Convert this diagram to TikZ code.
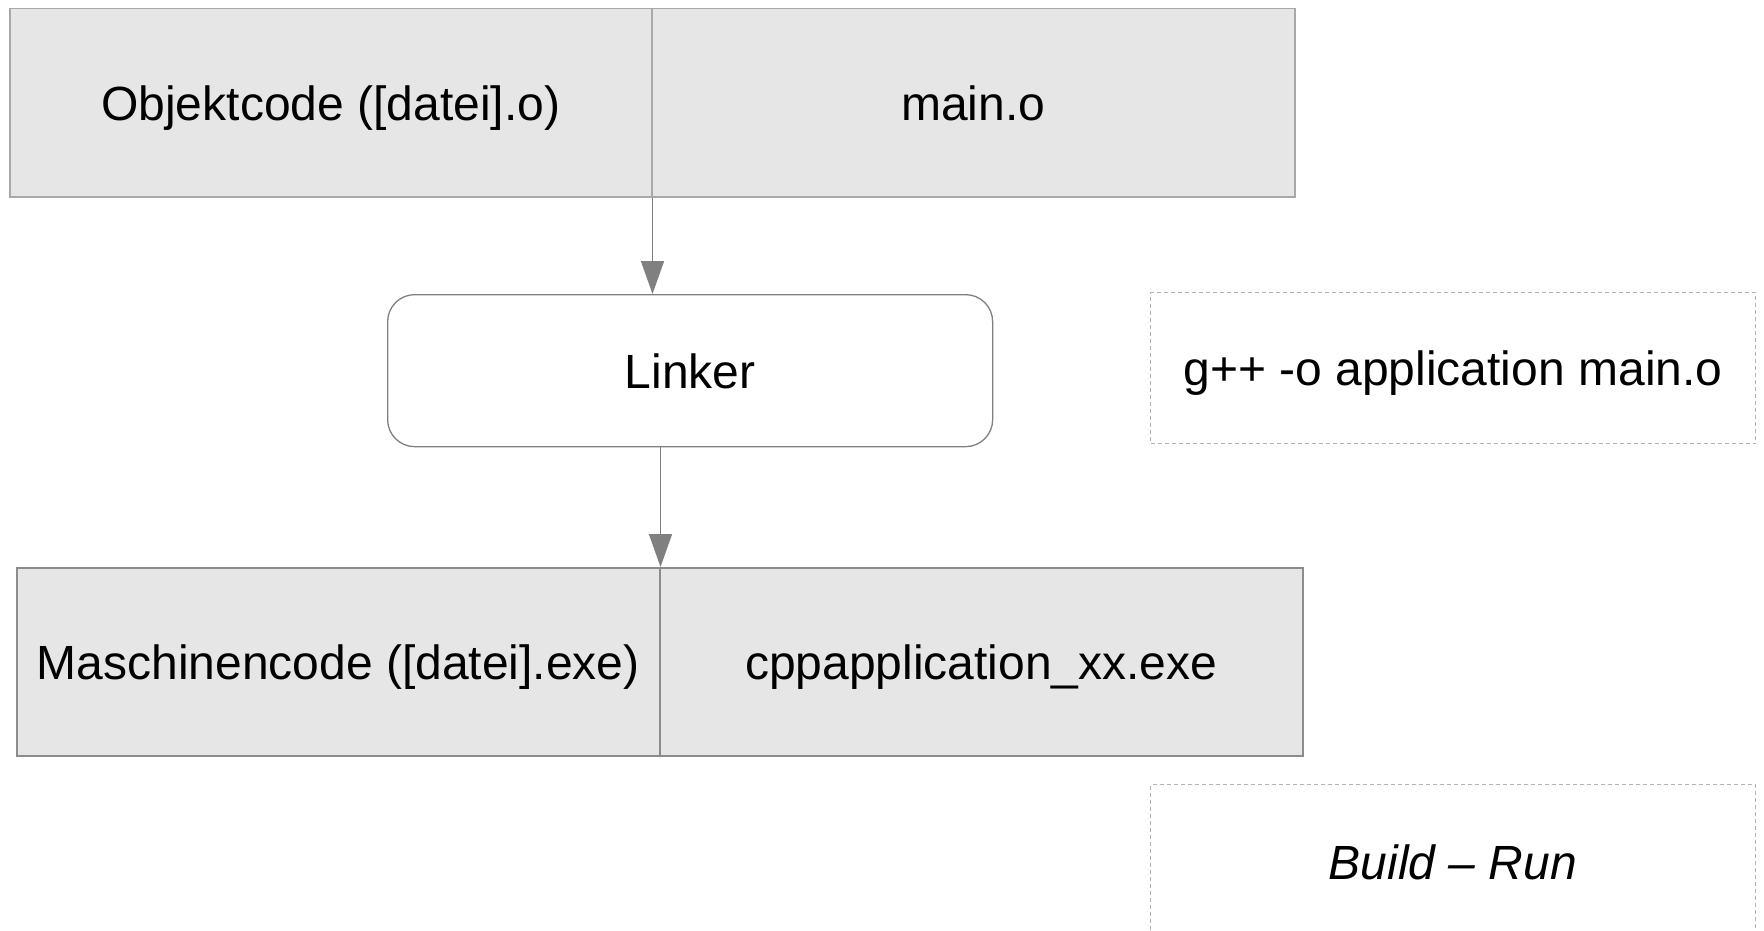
\documentclass[tikz,border=0pt]{standalone}
\usepackage{fontspec}
\setmainfont{Liberation Sans}
\usetikzlibrary{arrows.meta}
\definecolor{cellfill}{HTML}{E6E6E6}
\definecolor{celllineA}{HTML}{A8A8A8}
\definecolor{celllineB}{HTML}{8C8C8C}
\definecolor{arrowgray}{HTML}{808080}
\definecolor{dashgray}{HTML}{B3B3B3}
\begin{document}
\begin{tikzpicture}[x=1pt,y=-1pt,
  txt/.style={font=\fontsize{48}{58}\selectfont, text=black, inner sep=0pt, text height=35pt, text depth=0pt},
  cellA/.style={txt, draw=celllineA, fill=cellfill, line width=1.5pt, minimum height=188pt, anchor=north west},
  cellB/.style={txt, draw=celllineB, fill=cellfill, line width=1.5pt, minimum height=188pt, anchor=north west},
  procbox/.style={txt, draw=arrowgray, fill=white, line width=1.3pt, rounded corners=27pt, anchor=north west},
  notebox/.style={txt, draw=dashgray, line width=1pt, dash pattern=on 4pt off 3pt, anchor=north west},
  conn/.style={draw=arrowgray, line width=1.5pt, -{Triangle[width=23pt,length=33pt]}}
]
\useasboundingbox (0,0) rectangle (1764,931);
\clip (0,0) rectangle (1764,931);

\node[cellA, minimum width=642pt] (objL) at (9,8) {Objektcode ([datei].o)};
\node[cellA, minimum width=643pt] (objR) at (651,8) {main.o};

\node[procbox, minimum width=605pt, minimum height=152pt] (linker) at (387,294) {Linker};

\node[cellB, minimum width=643pt] (maschL) at (16,567) {Maschinencode ([datei].exe)};
\node[cellB, minimum width=643pt] (maschR) at (659,567) {cppapplication\_xx.exe};

\node[notebox, minimum width=605pt, minimum height=151pt] (cmd) at (1150,292) {g++ -o application main.o};
\node[notebox, minimum width=605pt, minimum height=154pt] (build) at (1150,784) {\itshape Build – Run};

\draw[conn] (objL.south east) -- (objL.south east |- linker.north);
\draw[conn] (maschL.north east |- linker.south) -- (maschL.north east);
\end{tikzpicture}
\end{document}
